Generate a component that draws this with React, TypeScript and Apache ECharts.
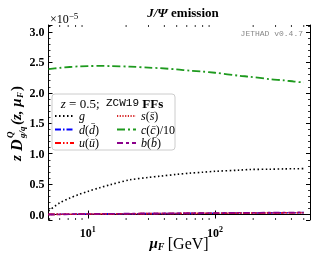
import React, { useEffect, useRef } from 'react';
import * as echarts from 'echarts';

const muF = [4.9, 6, 7.2, 8.5, 10, 12.4, 15, 21.4, 30, 37, 50, 63.5, 80, 100, 157, 188, 271, 350, 420, 501];
const gVals = [0.06, 0.19, 0.27, 0.33, 0.38, 0.44, 0.49, 0.57, 0.61, 0.63, 0.66, 0.68, 0.695, 0.71, 0.73, 0.74, 0.745, 0.75, 0.752, 0.755];
const dVals = [0.002, 0.004, 0.005, 0.007, 0.008, 0.01, 0.011, 0.013, 0.015, 0.016, 0.018, 0.019, 0.02, 0.021, 0.024, 0.025, 0.027, 0.028, 0.029, 0.031];
const uVals = [0.002, 0.004, 0.005, 0.007, 0.008, 0.01, 0.011, 0.013, 0.015, 0.016, 0.018, 0.019, 0.02, 0.021, 0.024, 0.025, 0.027, 0.028, 0.029, 0.031];
const sVals = [0.001, 0.003, 0.005, 0.006, 0.008, 0.009, 0.011, 0.013, 0.015, 0.016, 0.017, 0.019, 0.02, 0.021, 0.023, 0.024, 0.026, 0.028, 0.029, 0.03];
const cVals = [2.39, 2.41, 2.425, 2.435, 2.44, 2.442, 2.44, 2.43, 2.415, 2.405, 2.385, 2.365, 2.35, 2.33, 2.28, 2.265, 2.225, 2.205, 2.185, 2.17];
const bVals = [0.0, 0.002, 0.004, 0.006, 0.008, 0.01, 0.012, 0.015, 0.017, 0.018, 0.02, 0.022, 0.023, 0.025, 0.028, 0.029, 0.031, 0.033, 0.034, 0.036];
const minorX = [5, 6, 7, 8, 9, 20, 30, 40, 50, 60, 70, 80, 90, 200, 300, 400, 500];

const X_MIN = 4.9;
const X_MAX = 560;
const Y_MIN = -0.09;
const Y_MAX = 3.115;

const serif = '"Liberation Serif", "DejaVu Serif", serif';
const mono = '"Liberation Mono", "DejaVu Sans Mono", monospace';

export default function App() {
  const ref = useRef<HTMLDivElement>(null);
  useEffect(() => {
    const chart = echarts.init(ref.current!, null, { renderer: 'svg' });
    const mk = (name: string, vals: number[], color: string, dash: number[], width: number, z: number) => ({
      name,
      type: 'line',
      data: muF.map((m, i) => [m, vals[i]]),
      showSymbol: false,
      symbol: 'none',
      smooth: 0.3,
      lineStyle: { color, type: dash, width },
      itemStyle: { color },
      z,
    });
    const labelRich = {
      i: { fontFamily: serif, fontStyle: 'italic', fontSize: 12, color: '#000' },
      n: { fontFamily: serif, fontSize: 12, color: '#000' },
    };
    const legendNames: Record<string, string> = {
      g: '{i|g}',
      d: '{i|d}{n|(}{i|d\u0304}{n|)}',
      u: '{i|u}{n|(}{i|u\u0304}{n|)}',
      s: '{i|s}{n|(}{i|s\u0304}{n|)}',
      c: '{i|c}{n|(}{i|c\u0304}{n|)/10}',
      b: '{i|b}{n|(}{i|b\u0304}{n|)}',
    };
    const legendBase = {
      orient: 'vertical',
      itemWidth: 19,
      itemHeight: 8,
      itemGap: 1.5,
      padding: 0,
      z: 20,
      itemStyle: { opacity: 0 },
      formatter: (n: string) => legendNames[n],
      textStyle: { lineHeight: 12, rich: labelRich },
      selectedMode: false,
    };
    const tickStyle = { color: '#000', width: 1 };
    const axisLine = { show: true, lineStyle: { color: '#000', width: 1 } };
    chart.setOption({
      animation: false,
      grid: { left: 48.5, right: 7, top: 25, bottom: 34 },
      legend: [
        { ...legendBase, left: 54, top: 110, data: ['g', 'd', 'u'] },
        { ...legendBase, left: 116, top: 110, data: ['s', 'c', 'b'] },
      ],
      xAxis: [
        {
          type: 'log',
          min: X_MIN,
          max: X_MAX,
          position: 'bottom',
          axisLine,
          axisTick: { inside: true, length: 4, lineStyle: tickStyle },
          splitLine: { show: false },
          axisLabel: {
            showMinLabel: false,
            showMaxLabel: false,
            margin: 5,
            formatter: (v: number) => (Math.abs(v - 10) < 1e-6 ? '{b|10}{s|1}' : Math.abs(v - 100) < 1e-6 ? '{b|10}{s|2}' : ''),
            rich: {
              b: { fontFamily: serif, fontWeight: 'bold', fontSize: 12, color: '#000', lineHeight: 14, verticalAlign: 'bottom' },
              s: { fontFamily: serif, fontWeight: 'bold', fontSize: 8, color: '#000', lineHeight: 8, verticalAlign: 'top' },
            },
          },
        },
        {
          type: 'log',
          min: X_MIN,
          max: X_MAX,
          position: 'top',
          axisLine,
          axisTick: { inside: true, length: 4, lineStyle: tickStyle },
          splitLine: { show: false },
          axisLabel: { show: false },
        },
      ],
      yAxis: [
        {
          type: 'value',
          min: Y_MIN,
          max: Y_MAX,
          position: 'left',
          axisLine,
          axisTick: { inside: true, length: 4, lineStyle: tickStyle },
          minorTick: { show: true, splitNumber: 5, length: 2, lineStyle: { color: '#000', width: 0.8 } },
          splitLine: { show: false },
          axisLabel: {
            showMinLabel: false,
            showMaxLabel: false,
            margin: 4,
            formatter: (v: number) => v.toFixed(1),
            fontFamily: serif,
            fontWeight: 'bold',
            fontSize: 12,
            color: '#000',
          },
        },
        {
          type: 'value',
          min: Y_MIN,
          max: Y_MAX,
          position: 'right',
          axisLine,
          axisTick: { inside: true, length: 4, lineStyle: tickStyle },
          minorTick: { show: true, splitNumber: 5, length: 2, lineStyle: { color: '#000', width: 0.8 } },
          splitLine: { show: false },
          axisLabel: { show: false },
        },
      ],
      series: [
        mk('g', gVals, '#000000', [1.5, 2.5], 1.6, 3),
        mk('d', dVals, '#0000ff', [6, 2, 1.5, 2], 1.6, 3),
        mk('u', uVals, '#ff0000', [6, 2, 1.5, 2, 1.5, 2], 1.6, 3),
        mk('s', sVals, '#d62728', [1.2, 1.5], 1.6, 3),
        mk('c', cVals, '#1e9a1e', [8, 3, 2, 3], 1.8, 3),
        mk('b', bVals, '#8b008b', [6, 3, 3, 3], 1.6, 3),
        {
          type: 'custom',
          name: 'minor',
          silent: true,
          clip: false,
          data: minorX.map((v) => [v, Y_MIN]),
          renderItem: (_p: any, api: any) => {
            const x = api.value(0);
            const b = api.coord([x, Y_MIN]);
            const t = api.coord([x, Y_MAX]);
            return {
              type: 'group',
              children: [
                { type: 'line', shape: { x1: b[0], y1: b[1], x2: b[0], y2: b[1] - 2 }, style: { stroke: '#000', lineWidth: 0.8 } },
                { type: 'line', shape: { x1: t[0], y1: t[1], x2: t[0], y2: t[1] + 2 }, style: { stroke: '#000', lineWidth: 0.8 } },
              ],
            };
          },
          z: 5,
        },
      ],
      graphic: [
        {
          type: 'text',
          x: 183,
          y: 12,
          style: {
            text: '{bi|J/Ψ} {b|emission}',
            align: 'center',
            verticalAlign: 'middle',
            rich: {
              bi: { fontFamily: serif, fontWeight: 'bold', fontStyle: 'italic', fontSize: 13, fill: '#000' },
              b: { fontFamily: serif, fontWeight: 'bold', fontSize: 13, fill: '#000' },
            },
          },
        },
        {
          type: 'text',
          x: 50,
          y: 11,
          style: {
            text: '{a|×10}{s|−5}',
            rich: {
              a: { fontFamily: serif, fontSize: 12, fill: '#000', lineHeight: 14, verticalAlign: 'bottom' },
              s: { fontFamily: serif, fontSize: 9, fill: '#000', lineHeight: 9, verticalAlign: 'top' },
            },
          },
        },
        {
          type: 'text',
          x: 303,
          y: 33,
          style: { text: 'JETHAD v0.4.7', align: 'right', verticalAlign: 'middle', fontFamily: mono, fontSize: 8, fill: '#888' },
        },
        {
          type: 'rect',
          shape: { x: 52, y: 94, width: 123, height: 56, r: 3 },
          style: { fill: 'rgba(255,255,255,0.85)', stroke: '#cccccc', lineWidth: 1 },
          z: 2,
        },
        {
          type: 'text',
          x: 112,
          y: 103,
          z: 11,
          style: {
            text: '{i|z}{n| = 0.5;  }{m|ZCW19} {b|FFs}',
            align: 'center',
            verticalAlign: 'middle',
            rich: {
              i: { fontFamily: serif, fontStyle: 'italic', fontSize: 13, fill: '#000' },
              n: { fontFamily: serif, fontSize: 13, fill: '#000' },
              m: { fontFamily: mono, fontSize: 11, fill: '#000' },
              b: { fontFamily: serif, fontWeight: 'bold', fontSize: 13, fill: '#000' },
            },
          },
        },
        {
          type: 'group',
          x: 16,
          y: 123,
          rotation: Math.PI / 2,
          children: [
            { type: 'text', x: -38, y: 0, style: { text: 'z', verticalAlign: 'middle', fontFamily: serif, fontStyle: 'italic', fontWeight: 'bold', fontSize: 15, fill: '#000' } },
            { type: 'text', x: -28, y: 0, style: { text: 'D', verticalAlign: 'middle', fontFamily: serif, fontStyle: 'italic', fontWeight: 'bold', fontSize: 16, fill: '#000' } },
            { type: 'text', x: -15, y: -6, style: { text: 'Q', verticalAlign: 'middle', fontFamily: serif, fontStyle: 'italic', fontWeight: 'bold', fontSize: 9, fill: '#000' } },
            { type: 'text', x: -15, y: 6, style: { text: 'g/q', verticalAlign: 'middle', fontFamily: serif, fontStyle: 'italic', fontWeight: 'bold', fontSize: 9, fill: '#000' } },
            { type: 'text', x: -2, y: 0, style: { text: '(z, μ', verticalAlign: 'middle', fontFamily: serif, fontStyle: 'italic', fontWeight: 'bold', fontSize: 15, fill: '#000' } },
            { type: 'text', x: 25, y: 4, style: { text: 'F', verticalAlign: 'middle', fontFamily: serif, fontStyle: 'italic', fontWeight: 'bold', fontSize: 9, fill: '#000' } },
            { type: 'text', x: 32, y: 0, style: { text: ')', verticalAlign: 'middle', fontFamily: serif, fontWeight: 'bold', fontSize: 15, fill: '#000' } },
          ],
        },
        {
          type: 'text',
          x: 179,
          y: 243,
          style: {
            text: '{bi|μ}{sub|F} {n|[GeV]}',
            align: 'center',
            verticalAlign: 'middle',
            rich: {
              bi: { fontFamily: serif, fontWeight: 'bold', fontStyle: 'italic', fontSize: 15, fill: '#000', lineHeight: 16, verticalAlign: 'top' },
              sub: { fontFamily: serif, fontWeight: 'bold', fontStyle: 'italic', fontSize: 10, fill: '#000', lineHeight: 10, verticalAlign: 'bottom' },
              n: { fontFamily: serif, fontSize: 16, fill: '#000', lineHeight: 16, verticalAlign: 'top' },
            },
          },
        },
      ],
    });
    return () => chart.dispose();
  }, []);
  return <div ref={ref} style={{ position: 'fixed', left: 0, top: 0, width: 317, height: 254 }} />;
}
